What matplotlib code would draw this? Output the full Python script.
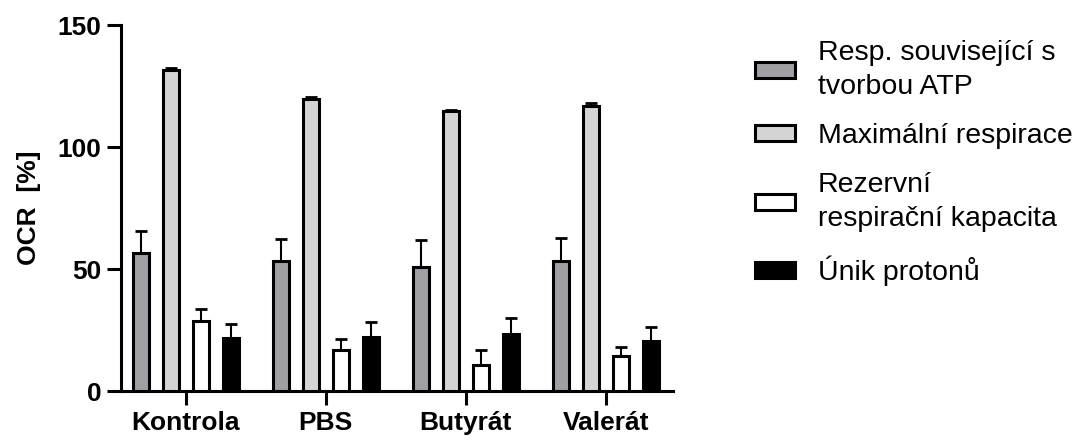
import matplotlib
matplotlib.use("Agg")
import matplotlib.pyplot as plt
import numpy as np

plt.rcParams['font.family'] = ['Liberation Sans', 'DejaVu Sans']

groups = ["Kontrola", "PBS", "Butyrát", "Valerát"]
series = ["Resp. související s\ntvorbou ATP", "Maximální respirace",
          "Rezervní\nrespirační kapacita", "Únik protonů"]
atp = [56.7, 53.5, 51.0, 53.4]
atp_err = [8.9, 8.9, 10.8, 9.3]
maxresp = [131.7, 119.6, 114.7, 116.9]
maxresp_err = [0.9, 1.1, 0.7, 1.3]
reserve = [28.7, 17.0, 10.9, 14.3]
reserve_err = [4.9, 4.3, 5.9, 3.7]
leak = [21.6, 22.0, 23.6, 20.4]
leak_err = [5.8, 6.4, 6.3, 6.1]
yticks = [0, 50, 100, 150]

values = [atp, maxresp, reserve, leak]
errors = [atp_err, maxresp_err, reserve_err, leak_err]
colors = ["#A0A0A4", "#D4D4D4", "#FFFFFF", "#000000"]
offsets = [-0.321, -0.107, 0.107, 0.321]

fig = plt.figure(figsize=(10.87, 4.41), dpi=100)
ax = fig.add_axes([0.111, 0.113, 0.508, 0.830])

x = np.arange(len(groups))
lw = 2.2
handles = []
for vals, errs, col, off, lab in zip(values, errors, colors, offsets, series):
    ax.errorbar(x + off, vals, yerr=[np.zeros(len(errs)), errs], fmt='none',
                ecolor='black', elinewidth=1.5, capsize=4, capthick=2, zorder=2)
    b = ax.bar(x + off, vals, width=0.114, color=col, edgecolor='black',
               linewidth=lw, label=lab, zorder=3)
    handles.append(b)

ax.set_xlim(-0.466, 3.479)
ax.set_ylim(0, 150)
ax.set_yticks(yticks)
ax.set_xticks(x)
ax.set_xticklabels(groups, fontsize=19, fontweight='bold')
ax.set_yticklabels([str(t) for t in yticks], fontsize=19, fontweight='bold')
for s in ['top', 'right']:
    ax.spines[s].set_visible(False)
for s in ['left', 'bottom']:
    ax.spines[s].set_linewidth(lw)
ax.tick_params(axis='both', direction='out', length=10, width=lw, pad=4)
ax.set_ylabel("OCR  [%]", fontsize=19, fontweight='bold', labelpad=12)

leg = fig.legend(handles, series, loc='upper left',
                 bbox_to_anchor=(755 / 1087, 1 - 40 / 441), frameon=False,
                 fontsize=20.5, handlelength=1.4, handleheight=0.5,
                 handletextpad=0.8, labelspacing=0.82,
                 borderpad=0, borderaxespad=0)
for p in leg.get_patches():
    p.set_linewidth(2.2)
for t in leg.get_texts():
    t.set_linespacing(1.38)

fig.savefig("out.png", dpi=100)
